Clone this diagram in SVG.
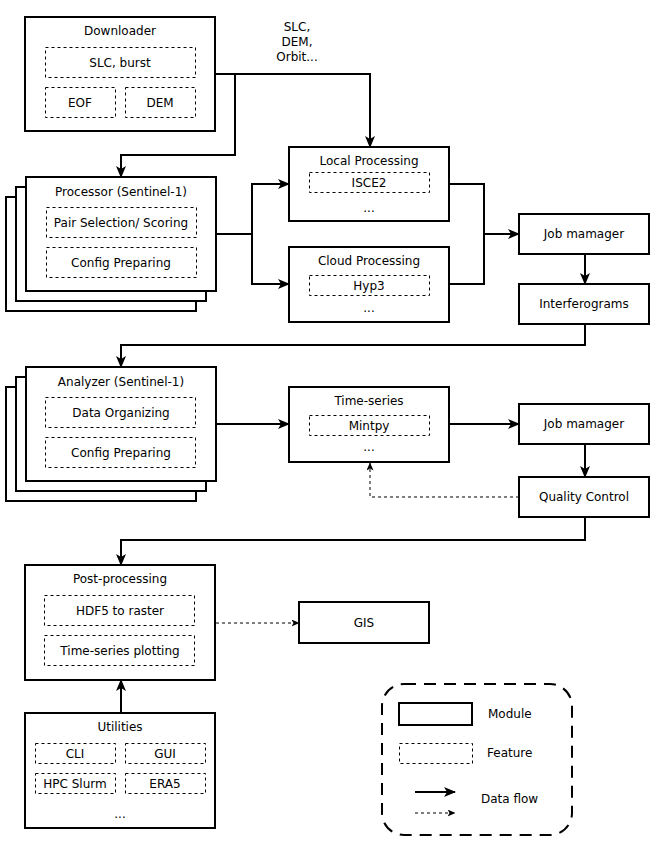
<svg xmlns="http://www.w3.org/2000/svg" width="655" height="842" viewBox="0 0 655 842">
<style>
.m{fill:#fff;stroke:#000;stroke-width:2}
.f{fill:none;stroke:#000;stroke-width:1;stroke-dasharray:3 3}
.t{font-family:"DejaVu Sans",Verdana,sans-serif;font-size:12px;fill:#000;text-anchor:middle}
.ts{font-family:"DejaVu Sans",Verdana,sans-serif;font-size:12px;fill:#000}
.c{fill:none;stroke:#000;stroke-width:2}
.d{fill:none;stroke:#000;stroke-width:1;stroke-dasharray:3 3}
</style>
<defs>
<marker id="a" markerUnits="userSpaceOnUse" markerWidth="12" markerHeight="10" viewBox="0 0 12 10" refX="11" refY="5" orient="auto"><path d="M0,0 L12,5 L0,10 L3,5 z" fill="#000"/></marker>
<marker id="ad" markerUnits="userSpaceOnUse" markerWidth="8" markerHeight="7" viewBox="0 0 8 7" refX="7.5" refY="3.5" orient="auto"><path d="M0,0 L8,3.5 L0,7 L2,3.5 z" fill="#000"/></marker>
</defs>
<rect width="655" height="842" fill="#fff"/>
<g id="connectors">
<path class="c" d="M215,74 H370 V147" marker-end="url(#a)"/>
<path class="c" d="M235,74 V155 H121 V177" marker-end="url(#a)"/>
<path class="c" d="M216,234 H252 V184 H289" marker-end="url(#a)"/>
<path class="c" d="M252,234 V284 H289" marker-end="url(#a)"/>
<path class="c" d="M449,184 H484 V234 H519" marker-end="url(#a)"/>
<path class="c" d="M449,284 H484 V234"/>
<path class="c" d="M585,254 V284" marker-end="url(#a)"/>
<path class="c" d="M585,324 V345 H121 V367" marker-end="url(#a)"/>
<path class="c" d="M216,424 H289" marker-end="url(#a)"/>
<path class="c" d="M449,424 H519" marker-end="url(#a)"/>
<path class="c" d="M585,444 V477" marker-end="url(#a)"/>
<path class="d" d="M519,497 H370 V463" marker-end="url(#ad)"/>
<path class="c" d="M585,517 V540 H121 V565" marker-end="url(#a)"/>
<path class="d" d="M216,623 H299" marker-end="url(#ad)"/>
<path class="c" d="M121,713 V680" marker-end="url(#a)"/>
</g>
<g id="data-label">
<text class="t" x="297" y="31">SLC,</text>
<text class="t" x="297" y="46">DEM,</text>
<text class="t" x="297" y="61">Orbit...</text>
</g>
<g id="downloader">
<rect class="m" x="25" y="17" width="190" height="114"/>
<text class="t" x="120" y="35">Downloader</text>
<rect class="f" x="45.5" y="47.5" width="150" height="30"/>
<text class="t" x="120" y="67">SLC, burst</text>
<rect class="f" x="45.5" y="87.5" width="70" height="30"/>
<text class="t" x="80" y="107">EOF</text>
<rect class="f" x="125.5" y="87.5" width="70" height="30"/>
<text class="t" x="160" y="107">DEM</text>
</g>
<g id="processor">
<rect class="m" x="6" y="197" width="190" height="114"/>
<rect class="m" x="16" y="187" width="190" height="114"/>
<rect class="m" x="26" y="177" width="190" height="114"/>
<text class="t" x="121" y="196">Processor (Sentinel-1)</text>
<rect class="f" x="46.5" y="207.5" width="150" height="30"/>
<text class="t" x="121" y="227">Pair Selection/ Scoring</text>
<rect class="f" x="46.5" y="247.5" width="150" height="30"/>
<text class="t" x="121" y="267">Config Preparing</text>
</g>
<g id="local-processing">
<rect class="m" x="289" y="147" width="160" height="74"/>
<text class="t" x="369" y="165">Local Processing</text>
<rect class="f" x="309.5" y="172.5" width="120" height="20"/>
<text class="t" x="369" y="187">ISCE2</text>
<text class="t" x="369" y="212">...</text>
</g>
<g id="cloud-processing">
<rect class="m" x="289" y="247" width="160" height="75"/>
<text class="t" x="369" y="265">Cloud Processing</text>
<rect class="f" x="309.5" y="275.5" width="120" height="20"/>
<text class="t" x="369" y="290">Hyp3</text>
<text class="t" x="369" y="312">...</text>
</g>
<g id="job-manager-1">
<rect class="m" x="519" y="214" width="130" height="40"/>
<text class="t" x="584" y="238">Job mamager</text>
</g>
<g id="interferograms">
<rect class="m" x="519" y="284" width="130" height="40"/>
<text class="t" x="584" y="308">Interferograms</text>
</g>
<g id="analyzer">
<rect class="m" x="6" y="387" width="190" height="114"/>
<rect class="m" x="16" y="377" width="190" height="114"/>
<rect class="m" x="26" y="367" width="190" height="114"/>
<text class="t" x="121" y="386">Analyzer (Sentinel-1)</text>
<rect class="f" x="45.5" y="397.5" width="150" height="30"/>
<text class="t" x="121" y="417">Data Organizing</text>
<rect class="f" x="45.5" y="437.5" width="150" height="30"/>
<text class="t" x="121" y="457">Config Preparing</text>
</g>
<g id="time-series">
<rect class="m" x="289" y="387" width="160" height="75"/>
<text class="t" x="369" y="405">Time-series</text>
<rect class="f" x="309.5" y="415.5" width="120" height="20"/>
<text class="t" x="369" y="430">Mintpy</text>
<text class="t" x="369" y="451">...</text>
</g>
<g id="job-manager-2">
<rect class="m" x="519" y="404" width="130" height="40"/>
<text class="t" x="584" y="428">Job mamager</text>
</g>
<g id="quality-control">
<rect class="m" x="519" y="477" width="130" height="40"/>
<text class="t" x="584" y="501">Quality Control</text>
</g>
<g id="post-processing">
<rect class="m" x="25" y="565" width="190" height="115"/>
<text class="t" x="120" y="583">Post-processing</text>
<rect class="f" x="44.5" y="595.5" width="150" height="30"/>
<text class="t" x="120" y="615">HDF5 to raster</text>
<rect class="f" x="44.5" y="635.5" width="150" height="30"/>
<text class="t" x="120" y="655">Time-series plotting</text>
</g>
<g id="gis">
<rect class="m" x="299" y="602" width="130" height="41"/>
<text class="t" x="364" y="627">GIS</text>
</g>
<g id="utilities">
<rect class="m" x="25" y="713" width="190" height="115"/>
<text class="t" x="120" y="731">Utilities</text>
<rect class="f" x="35.5" y="743.5" width="80" height="20"/>
<text class="t" x="75" y="758">CLI</text>
<rect class="f" x="125.5" y="743.5" width="80" height="20"/>
<text class="t" x="165" y="758">GUI</text>
<rect class="f" x="35.5" y="773.5" width="80" height="20"/>
<text class="t" x="75" y="788">HPC Slurm</text>
<rect class="f" x="125.5" y="773.5" width="80" height="20"/>
<text class="t" x="165" y="788">ERA5</text>
<text class="t" x="120" y="818">...</text>
</g>
<g id="legend">
<rect x="382" y="684" width="190" height="151" rx="22" ry="22" fill="none" stroke="#000" stroke-width="2" stroke-dasharray="12 8"/>
<rect class="m" x="399" y="703" width="73" height="22"/>
<text class="ts" x="488" y="718">Module</text>
<rect class="f" x="399.5" y="743.5" width="73" height="20"/>
<text class="ts" x="487" y="757">Feature</text>
<path class="c" d="M415,792 H455" marker-end="url(#a)"/>
<path class="d" d="M415,813 H455" marker-end="url(#ad)"/>
<text class="ts" x="481" y="803">Data flow</text>
</g>
</svg>
